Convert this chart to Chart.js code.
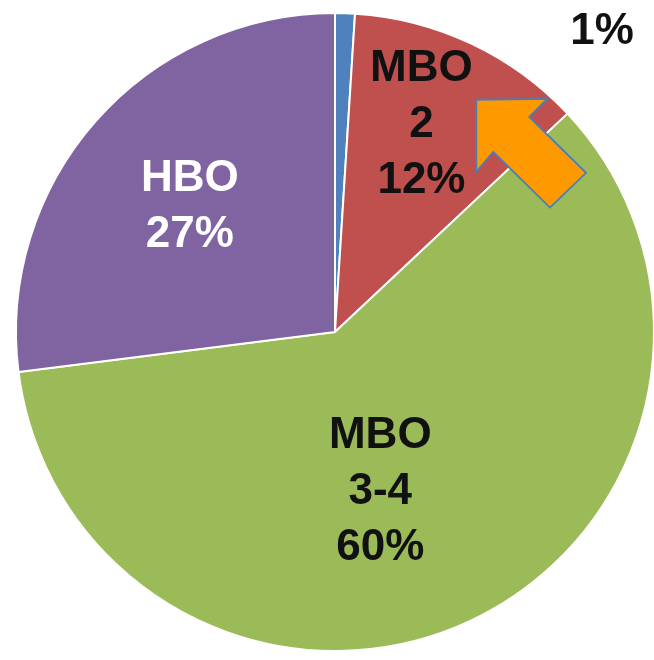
<!DOCTYPE html>
<html>
<head>
<meta charset="utf-8">
<script src="https://cdn.jsdelivr.net/npm/chart.js@4"></script>
<style>
  html, body { margin: 0; padding: 0; background: #fff; overflow: hidden; }
  #wrap { width: 654px; height: 660px; overflow: hidden; }
</style>
</head>
<body>
<div id="wrap"><canvas id="pieChart" width="658" height="660"></canvas></div>
<script>
const categories = ['MBO 1', 'MBO 2', 'MBO 3-4', 'HBO'];
const shares = [1, 12, 60, 27];
const labelLines = [['1%'], ['MBO', '2', '12%'], ['MBO', '3-4', '60%'], ['HBO', '27%']];
const sliceColors = ['#4F81BD', '#C0504D', '#9BBB59', '#8064A2'];

// label anchor per slice, as fraction of the outer radius from centre
const labelSpots = [[0.837, -0.941], [0.271, -0.649], [0.142, 0.502], [-0.455, -0.392]];
const labelColors = ['#111', '#111', '#111', '#fff'];

// orange callout arrow, fraction of radius from centre
const arrowPts = [[0.443, -0.728], [0.665, -0.731], [0.609, -0.674], [0.787, -0.499],
                  [0.674, -0.390], [0.496, -0.565], [0.443, -0.502]];

const pieLabels = {
    id: 'pieLabels',
    afterDatasetsDraw(chart) {
        const ctx = chart.ctx;
        const arc = chart.getDatasetMeta(0).data[0];
        const cx = arc.x, cy = arc.y, r = arc.outerRadius;
        ctx.save();
        ctx.font = 'bold 44px "Liberation Sans", Arial, sans-serif';
        ctx.textAlign = 'center';
        ctx.textBaseline = 'middle';
        labelLines.forEach((lines, i) => {
            const x = cx + labelSpots[i][0] * r;
            const y = cy + labelSpots[i][1] * r;
            const lh = 56;
            ctx.fillStyle = labelColors[i];
            lines.forEach((t, j) => {
                ctx.fillText(t, x, y + (j - (lines.length - 1) / 2) * lh);
            });
        });

        ctx.beginPath();
        arrowPts.forEach((p, i) => {
            const x = cx + p[0] * r, y = cy + p[1] * r;
            if (i === 0) ctx.moveTo(x, y); else ctx.lineTo(x, y);
        });
        ctx.closePath();
        ctx.fillStyle = '#FF9900';
        ctx.fill();
        ctx.lineWidth = 1.8;
        ctx.strokeStyle = '#4A7EBB';
        ctx.lineJoin = 'miter';
        ctx.stroke();
        ctx.restore();
    }
};

const ctx = document.getElementById('pieChart').getContext('2d');
new Chart(ctx, {
    type: 'pie',
    data: {
        labels: categories,
        datasets: [{
            data: shares,
            backgroundColor: sliceColors,
            borderColor: '#ffffff',
            borderWidth: 2
        }]
    },
    options: {
        responsive: false,
        animation: false,
        layout: { padding: { left: 15, right: 3, top: 12, bottom: 8 } },
        plugins: {
            legend: { display: false },
            tooltip: { enabled: false }
        }
    },
    plugins: [pieLabels]
});
</script>
</body>
</html>
